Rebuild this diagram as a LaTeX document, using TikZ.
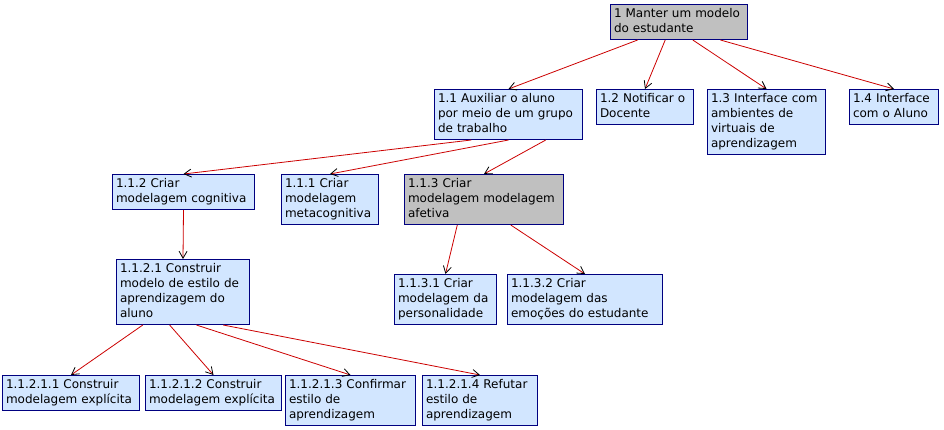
\documentclass[tikz,border=0pt]{standalone}
\usepackage{fontspec}
\setmainfont{DejaVu Sans}
\usepackage{xcolor}
\usepackage{tikz}
\usetikzlibrary{arrows.meta, positioning, calc}
\definecolor{goalfill}{HTML}{D2E6FF}
\definecolor{goalgrey}{HTML}{C0C0C0}
\definecolor{goaldraw}{HTML}{000080}
\definecolor{linkred}{HTML}{CC0000}
\tikzset{
  % Goal tree styles
  goal/.style={rectangle, anchor=north west, draw=goaldraw, line width=1pt, fill=#1, align=left,
    inner xsep=3.5pt, inner ysep=2.5pt, font=\fontsize{12}{15}\selectfont,
    execute at begin node=\strut, execute at end node=\strut},
  goal/.default={goalfill},
  link/.style={draw=linkred, line width=0.8pt, -{Straight Barb[length=7pt, width=8pt, color=black, line width=0.8pt]}},
}

\begin{document}
\begin{tikzpicture}[x=1pt, y=-1pt]
    \useasboundingbox[fill=white] (0,0) rectangle (944,429);

    % Level 0
    \node[goal=goalgrey, text width=130pt] (root) at (610,4) {1 Manter um modelo\\do estudante};

    % Level 1
    \node[goal, text width=141pt] (g11) at (434,89) {1.1 Auxiliar o aluno\\por meio de um grupo\\de trabalho};
    \node[goal, text width=90pt] (g12) at (596,89) {1.2 Notificar o\\Docente};
    \node[goal, text width=111pt] (g13) at (707,89) {1.3 Interface com\\ambientes de\\virtuais de\\aprendizagem};
    \node[goal, text width=82pt] (g14) at (849,89) {1.4 Interface\\com o Aluno};

    % Level 2
    \node[goal, text width=135pt] (g112) at (112,174) {1.1.2 Criar\\modelagem cognitiva};
    \node[goal, text width=90pt] (g111) at (281,174) {1.1.1 Criar\\modelagem\\metacognitiva};
    \node[goal=goalgrey, text width=152pt] (g113) at (404,174) {1.1.3 Criar\\modelagem modelagem\\afetiva};

    % Level 3
    \node[goal, text width=126pt] (g1121) at (116,259) {1.1.2.1 Construir\\modelo de estilo de\\aprendizagem do\\aluno};
    \node[goal, text width=95pt] (g1131) at (394,274) {1.1.3.1 Criar\\modelagem da\\personalidade};
    \node[goal, text width=148pt] (g1132) at (507,274) {1.1.3.2 Criar\\modelagem das\\emoções do estudante};

    % Level 4
    \node[goal, text width=130pt] (g11211) at (2,375) {1.1.2.1.1 Construir\\modelagem explícita};
    \node[goal, text width=129pt] (g11212) at (145,375) {1.1.2.1.2 Construir\\modelagem explícita};
    \node[goal, text width=123pt] (g11213) at (285,375) {1.1.2.1.3 Confirmar\\estilo de\\aprendizagem};
    \node[goal, text width=108pt] (g11214) at (422,375) {1.1.2.1.4 Refutar\\estilo de\\aprendizagem};

    % Links
    \draw[link] ($(root.south west)!0.2!(root.south east)$) -- (g11.north);
    \draw[link] ($(root.south west)!0.4!(root.south east)$) -- (g12.north);
    \draw[link] ($(root.south west)!0.6!(root.south east)$) -- (g13.north);
    \draw[link] ($(root.south west)!0.8!(root.south east)$) -- (g14.north);

    \draw[link] ($(g11.south west)!0.25!(g11.south east)$) -- (g112.north);
    \draw[link] ($(g11.south west)!0.5!(g11.south east)$) -- (g111.north);
    \draw[link] ($(g11.south west)!0.75!(g11.south east)$) -- (g113.north);

    \draw[link] (g112.south) -- (g1121.north);

    \draw[link] ($(g113.south west)!0.333!(g113.south east)$) -- (g1131.north);
    \draw[link] ($(g113.south west)!0.667!(g113.south east)$) -- (g1132.north);

    \draw[link] ($(g1121.south west)!0.2!(g1121.south east)$) -- (g11211.north);
    \draw[link] ($(g1121.south west)!0.4!(g1121.south east)$) -- (g11212.north);
    \draw[link] ($(g1121.south west)!0.6!(g1121.south east)$) -- (g11213.north);
    \draw[link] ($(g1121.south west)!0.8!(g1121.south east)$) -- (g11214.north);
  \end{tikzpicture}
\end{document}
